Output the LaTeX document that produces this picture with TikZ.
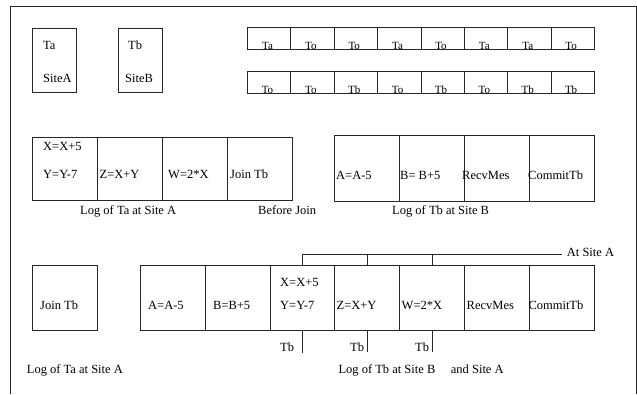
\documentclass[tikz,border=0pt]{standalone}
\usepackage{fontspec}
\setmainfont{Liberation Serif}
\begin{document}
\begin{tikzpicture}[x=1pt,y=-1pt,
  ln/.style={line width=0.9pt,draw=black!85},
  cell/.style={ln,rectangle,inner sep=0pt,anchor=north west},
  txt/.style={inner sep=0pt,anchor=base west,font=\fontsize{12.5}{14}\selectfont},
  sml/.style={inner sep=0pt,anchor=base,font=\fontsize{11}{13}\selectfont}]
\useasboundingbox (0,0) rectangle (637,394);
% frame
\draw[ln] (10,394) -- (10,6) -- (636,6) -- (636,394);
% transaction boxes
\node[cell,minimum width=44,minimum height=64] (ta) at (32,28) {};
\node[cell,minimum width=44,minimum height=64] (tb) at (118,28) {};
\node[txt] (taA) at (43,49.5) {Ta};
\node[txt] (taB) at (43,82.5) {SiteA};
\node[txt] (tbA) at (128,49.5) {Tb};
\node[txt] (tbB) at (125,82.5) {SiteB};
% top rows
\foreach \t [count=\i] in {Ta,To,To,Ta,To,Ta,Ta,To}{
  \node[sml] (ra\i) at ({247+43.375*(\i-1)+20.5},49.5) {\t};
  \node[cell,minimum width=43.375,minimum height=22] (rac\i) at ({247+43.375*(\i-1)},27) {};
}
\foreach \t [count=\i] in {To,To,Tb,To,Tb,To,Tb,Tb}{
  \node[sml] (rb\i) at ({247+43.375*(\i-1)+20.5},93.5) {\t};
  \node[cell,minimum width=43.375,minimum height=22] (rbc\i) at ({247+43.375*(\i-1)},71) {};
}
% log of Ta at site A (middle)
\node[cell,minimum width=65,minimum height=63] (m1) at (32,137) {};
\node[cell,minimum width=65,minimum height=63] (m2) at (97,137) {};
\node[cell,minimum width=65,minimum height=63] (m3) at (162,137) {};
\node[cell,minimum width=65,minimum height=63] (m4) at (227,137) {};
\node[txt] (m1a) at (43,150.5) {X=X+5};
\node[txt] (m1b) at (43,178) {Y=Y-7};
\node[txt] (m2a) at (99.5,178) {Z=X+Y};
\node[txt] (m3a) at (168,178) {W=2*X};
\node[txt] (m4a) at (230,178) {Join Tb};
\node[txt] (lg1) at (80,214.5) {Log of Ta at Site A};
\node[txt] (bj) at (258,214.5) {Before Join};
% log of Tb at site B (middle)
\node[cell,minimum width=65,minimum height=66] (n1) at (334,135) {};
\node[cell,minimum width=65,minimum height=66] (n2) at (399,135) {};
\node[cell,minimum width=65,minimum height=66] (n3) at (464,135) {};
\node[cell,minimum width=65,minimum height=66] (n4) at (529,135) {};
\node[txt] (n1a) at (336,179) {A=A-5};
\node[txt] (n2a) at (400,179) {B= B+5};
\node[txt] (n3a) at (462,179) {RecvMes};
\node[txt] (n4a) at (528,179) {CommitTb};
\node[txt] (lg2) at (392,214.5) {Log of Tb at Site B};
% bottom
\node[cell,minimum width=65,minimum height=65] (j) at (32,265) {};
\node[txt] (ja) at (40,309) {Join Tb};
\node[cell,minimum width=65,minimum height=65] (b1) at (140,265) {};
\node[cell,minimum width=65,minimum height=65] (b2) at (205,265) {};
\node[cell,minimum width=64,minimum height=65] (b3) at (270,265) {};
\node[cell,minimum width=65,minimum height=65] (b4) at (334,265) {};
\node[cell,minimum width=65,minimum height=65] (b5) at (399,265) {};
\node[cell,minimum width=65,minimum height=65] (b6) at (464,265) {};
\node[cell,minimum width=65,minimum height=65] (b7) at (529,265) {};
\node[txt] (b1a) at (148,309) {A=A-5};
\node[txt] (b2a) at (213,309) {B=B+5};
\node[txt] (b3a) at (280,286) {X=X+5};
\node[txt] (b3b) at (280,309.5) {Y=Y-7};
\node[txt] (b4a) at (336.5,309) {Z=X+Y};
\node[txt] (b5a) at (401.5,309) {W=2*X};
\node[txt] (b6a) at (466.5,309) {RecvMes};
\node[txt] (b7a) at (528.3,309) {CommitTb};
% bracket "At Site A"
\coordinate (k3) at (b3.north |- 0,254);
\coordinate (k4) at (b4.north |- 0,254);
\coordinate (k5) at (b5.north |- 0,254);
\coordinate (kend) at (562,254);
\draw[ln] (b3.north) -- (k3) -- (kend);
\draw[ln] (b4.north) -- (k4);
\draw[ln] (b5.north) -- (k5);
\node[txt] (as) at (566.7,256) {At Site A};
% lower ticks
\coordinate (d3) at (b3.south |- 0,353);
\coordinate (d4) at (b4.south |- 0,352);
\coordinate (d5) at (b5.south |- 0,352);
\draw[ln] (b3.south) -- (d3);
\draw[ln] (b4.south) -- (d4);
\draw[ln] (b5.south) -- (d5);
\node[txt] (t3) at (280,351.5) {Tb};
\node[txt] (t4) at (350,351.5) {Tb};
\node[txt] (t5) at (415,351.5) {Tb};
\node[txt] (lg3) at (26.7,373.5) {Log of Ta at Site A};
\node[txt] (lg4) at (338.3,373.5) {Log of Tb at Site B};
\node[txt] (lg5) at (450.7,373.5) {and Site A};
\end{tikzpicture}
\end{document}
